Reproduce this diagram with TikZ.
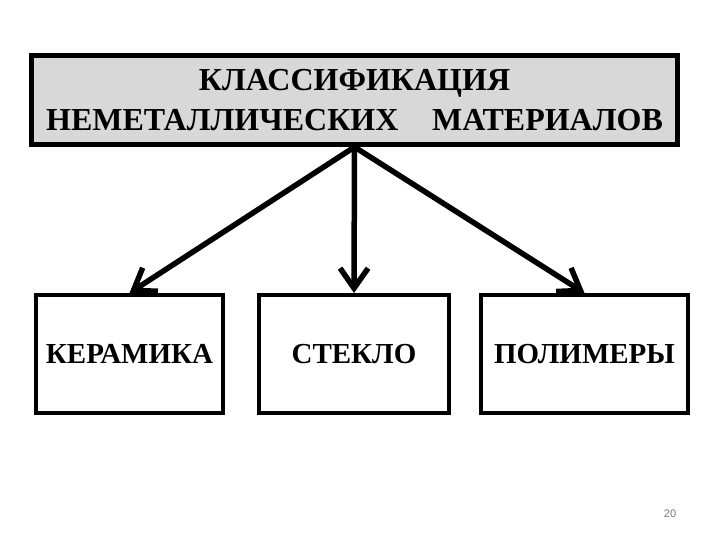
\documentclass[tikz,border=0pt]{standalone}
\usepackage{fontspec}
\newfontfamily\serifbold{Liberation Serif Bold}
\newfontfamily\numfont{Liberation Sans}
\usetikzlibrary{arrows.meta}
\definecolor{boxgray}{RGB}{216,216,216}
\definecolor{numgray}{RGB}{120,120,120}
\tikzset{
  headbox/.style={draw=black, fill=boxgray, line width=5bp, minimum width=646bp, minimum height=89bp, inner sep=0pt,
    align=center, font=\serifbold\fontsize{32bp}{40bp}\selectfont},
  itembox/.style={draw=black, fill=white, line width=4bp, minimum height=118bp, inner sep=0pt,
    font=\serifbold\fontsize{29bp}{34bp}\selectfont},
  link/.style={line width=5.5bp, -{Straight Barb[length=20bp,width=28bp]}}
}
\begin{document}
\begin{tikzpicture}[x=1bp,y=-1bp]
\useasboundingbox (0,0) rectangle (720,540);
\node[headbox] (top) at (354.5,100) {КЛАССИФИКАЦИЯ\\НЕМЕТАЛЛИЧЕСКИХ\hspace{0.8em} МАТЕРИАЛОВ};
\node[itembox, minimum width=187bp] (b1) at (129.5,354) {КЕРАМИКА};
\node[itembox, minimum width=190bp] (b2) at (354,354) {СТЕКЛО};
\node[itembox, minimum width=207bp] (b3) at (584.5,354) {ПОЛИМЕРЫ};
\draw[link] (top.south) -- (b1.north);
\draw[link] (top.south) -- (b2.north);
\draw[link] (top.south) -- (b3.north);
\node[font=\numfont\fontsize{11bp}{13bp}\selectfont, text=numgray, inner sep=0pt] (num) at (670,514) {20};
\end{tikzpicture}
\end{document}
